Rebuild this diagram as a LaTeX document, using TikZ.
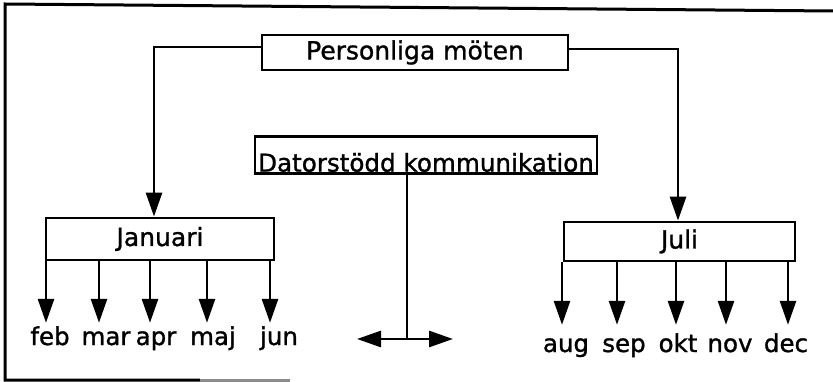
\documentclass[tikz,border=0pt]{standalone}
\usepackage{fontspec}
\setmainfont{DejaVu Sans}[FakeBold=1.2]
\usetikzlibrary{arrows.meta}
\begin{document}
\begin{tikzpicture}[x=1pt,y=-1pt,
  box/.style={draw, line width=2.8pt, inner sep=0pt},
  lab/.style={inner sep=0pt, font=\fontsize{24.5}{28}\selectfont, text height=18pt, text depth=6pt},
  conn/.style={line width=2.8pt},
  arr/.style={line width=2.8pt, -{Triangle[length=24pt,width=16pt]}},
  frame/.style={line width=3pt}]
\useasboundingbox (0,0) rectangle (833,382);
% frame
\draw[frame] (833,11) -- (5,4) -- (5,380) -- (200,380);
\draw[frame, black!45] (200,380) -- (290,380);
% boxes
\node[box, minimum width=306pt, minimum height=35pt, font=\fontsize{25}{28}\selectfont] (pm) at (415,52.5) {Personliga möten};
\node[box, minimum width=342pt, inner xsep=0pt, text height=35pt, text depth=2pt, font=\fontsize{24.6}{30}\selectfont, anchor=south] (dk) at (426,175) {Datorstödd kommunikation};
\node[box, minimum width=228pt, minimum height=42pt, font=\fontsize{25}{28}\selectfont] (jan) at (160,239) {Januari};
\node[box, minimum width=231pt, minimum height=39pt, font=\fontsize{25}{28}\selectfont] (juli) at (679.5,241.5) {Juli};
% month labels
\node[lab, anchor=base] (feb) at (50,345) {feb};
\node[lab, anchor=base] (mar) at (106,345) {mar};
\node[lab, anchor=base] (apr) at (156,345) {apr};
\node[lab, anchor=base] (maj) at (213,345) {maj};
\node[lab, anchor=base] (jun) at (279,345) {jun};
\node[lab, anchor=base] (aug) at (566,352) {aug};
\node[lab, anchor=base] (sep) at (624,352) {sep};
\node[lab, anchor=base] (okt) at (678,352) {okt};
\node[lab, anchor=base] (nov) at (730,352) {nov};
\node[lab, anchor=base] (dec) at (786,352) {dec};
% top connectors
\draw[arr] ([yshift=5.5pt]pm.west) -| ([xshift=-6pt]jan.north);
\draw[arr] ([yshift=3.5pt]pm.east) -| ([xshift=-1.5pt]juli.north);
% January arrows
\draw[arr, shorten >=4pt] (jan.south -| 46,0) -- (feb.north -| 46,0);
\draw[arr, shorten >=4pt] (jan.south -| 99,0) -- (mar.north -| 99,0);
\draw[arr, shorten >=4pt] (jan.south -| 150,0) -- (apr.north -| 150,0);
\draw[arr, shorten >=4pt] (jan.south -| 207,0) -- (maj.north -| 207,0);
\draw[arr, shorten >=4pt] (jan.south -| 270,0) -- (jun.north -| 270,0);
% July arrows
\draw[arr, shorten >=9pt] (juli.south -| 562,0) -- (aug.north -| 562,0);
\draw[arr, shorten >=9pt] (juli.south -| 617,0) -- (sep.north -| 617,0);
\draw[arr, shorten >=9pt] (juli.south -| 676,0) -- (okt.north -| 676,0);
\draw[arr, shorten >=9pt] (juli.south -| 726,0) -- (nov.north -| 726,0);
\draw[arr, shorten >=9pt] (juli.south -| 788,0) -- (dec.north -| 788,0);
% Datorstödd connector
\coordinate (fork) at (407,339);
\coordinate (lt) at (357,339);
\coordinate (rt) at (453,339);
\draw[conn] (dk.south -| fork) -- (fork);
\draw[arr] (fork) -- (lt);
\draw[arr] (fork) -- (rt);
\end{tikzpicture}
\end{document}
